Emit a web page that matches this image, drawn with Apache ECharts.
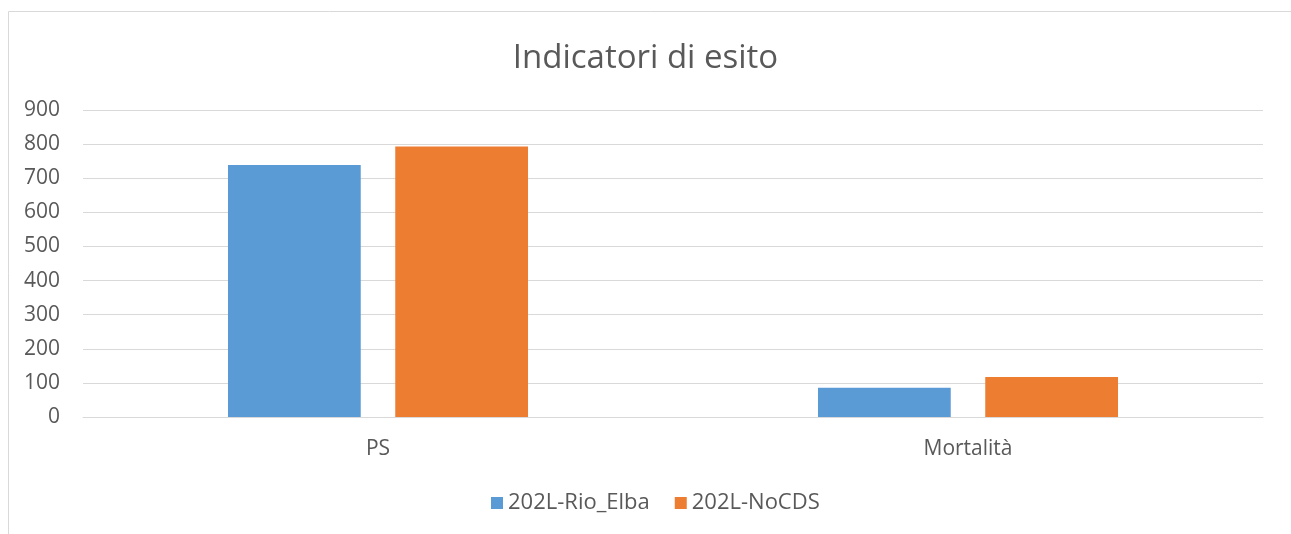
<!DOCTYPE html>
<html>
<head>
<meta charset="utf-8">
<script src="https://cdn.jsdelivr.net/npm/echarts@6/dist/echarts.min.js"></script>
<style>
  html, body { margin: 0; padding: 0; background: #ffffff; }
  #chart { width: 1291px; height: 534px; }
</style>
</head>
<body>
<div id="chart"></div>
<script>
// Outcome indicators by scenario
const categories = ['PS', 'Mortalità'];
const seriesNames = ['202L-Rio_Elba', '202L-NoCDS'];
const rioElba = [739, 86];
const noCDS = [793, 117];
const yTicks = { min: 0, max: 900, interval: 100 };

const textColor = '#595959';
const fontFamily = '"Open Sans", "Noto Sans", sans-serif';

const chart = echarts.init(document.getElementById('chart'), null, { renderer: 'canvas' });
chart.setOption({
  backgroundColor: '#ffffff',
  animation: false,
  textStyle: { fontFamily: fontFamily },
  graphic: [{
    type: 'rect',
    shape: { x: 8.5, y: 11.5, width: 1400, height: 700 },
    style: { fill: 'none', stroke: '#d9d9d9', lineWidth: 1 },
    silent: true,
    z: -1
  }],
  title: {
    text: 'Indicatori di esito',
    left: 'center',
    top: 37,
    textStyle: { color: textColor, fontSize: 33, fontWeight: 'normal', fontFamily: fontFamily }
  },
  legend: {
    data: seriesNames,
    bottom: 15,
    left: 486,
    itemWidth: 12,
    itemHeight: 12,
    itemGap: 25,
    icon: 'rect',
    textStyle: { color: textColor, fontSize: 22, fontFamily: fontFamily }
  },
  grid: { left: 83, right: 28, top: 110, bottom: 117, containLabel: false },
  xAxis: {
    type: 'category',
    data: categories,
    axisLine: { lineStyle: { color: '#d9d9d9', width: 1 } },
    axisTick: { show: false },
    axisLabel: { color: textColor, fontSize: 21, margin: 22, fontFamily: fontFamily }
  },
  yAxis: {
    type: 'value',
    min: yTicks.min,
    max: yTicks.max,
    interval: yTicks.interval,
    axisLine: { show: false },
    axisTick: { show: false },
    splitLine: { lineStyle: { color: '#d9d9d9', width: 1 } },
    axisLabel: { color: textColor, fontSize: 21, margin: 23, fontFamily: fontFamily }
  },
  series: [
    {
      name: seriesNames[0],
      type: 'bar',
      data: rioElba,
      barWidth: '22.5%',
      barGap: '26%',
      itemStyle: { color: '#5b9bd5' }
    },
    {
      name: seriesNames[1],
      type: 'bar',
      data: noCDS,
      barWidth: '22.5%',
      barGap: '26%',
      itemStyle: { color: '#ed7d31' }
    }
  ]
});
</script>
</body>
</html>
